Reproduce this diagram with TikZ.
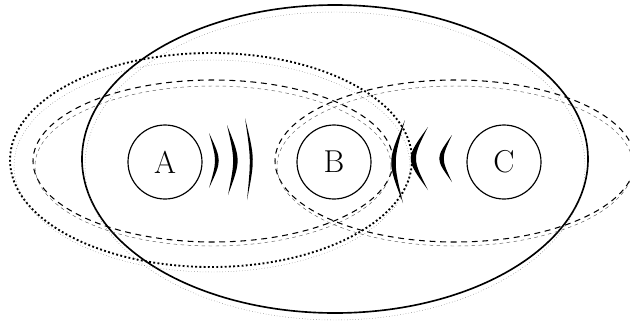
\documentclass[tikz,border=0pt]{standalone}
\usetikzlibrary{positioning}

\tikzset{
  station/.style={draw, circle, line width=1pt, minimum size=74*0.03cm, inner sep=0pt,
    font=\fontsize{27}{30}\selectfont},
  bigring/.style={line width=1.4pt},
  dotring/.style={line width=1.6pt, dotted},
  dashring/.style={line width=0.9pt, dash pattern=on 5pt off 4pt},
  ghost/.style={line width=0.4pt, black!65, dotted},
  ghostdash/.style={line width=0.4pt, black!65, dash pattern=on 3pt off 3pt}
}

\begin{document}
\begin{tikzpicture}[x=0.03cm, y=-0.03cm]
  \useasboundingbox (0,0) rectangle (630,324);
  \clip (0,0) rectangle (630,324);

  % outer range
  \draw[bigring] (335,159) ellipse [x radius=253, y radius=154];
  \draw[ghost] (335,166) ellipse [x radius=250, y radius=154];

  % left ranges
  \draw[dotring] (211,160) ellipse [x radius=201, y radius=107];
  \draw[ghost] (212,166) ellipse [x radius=198, y radius=106];
  \draw[dashring] (213,161) ellipse [x radius=180, y radius=81];
  \draw[ghostdash] (213,166) ellipse [x radius=178, y radius=80];

  % right range
  \draw[dashring] (455,161) ellipse [x radius=180, y radius=81];
  \draw[ghostdash] (455,166) ellipse [x radius=178, y radius=80];

  % stations
  \node[station] (A) at (165,162) {A};
  \node[station] (B) at (334,162) {B};
  \node[station] (C) at (504,162) {C};

  % waves from A
  \fill (209,133) .. controls (222,160.5) .. (209,188) .. controls (217,160.5) .. cycle;
  \fill (227,125) .. controls (241,160) .. (228,195) .. controls (235,160) .. cycle;
  \fill (245,118) .. controls (255,159) .. (247,200) .. controls (251,159) .. cycle;

  % waves towards C
  \fill (405,120) .. controls (387,161.5) .. (403,203) .. controls (393,161.5) .. cycle;
  \fill (428,127) .. controls (405,158.5) .. (428,190) .. controls (412,158.5) .. cycle;
  \fill (452,135) .. controls (435,158.5) .. (452,182) .. controls (441,158.5) .. cycle;
\end{tikzpicture}
\end{document}
